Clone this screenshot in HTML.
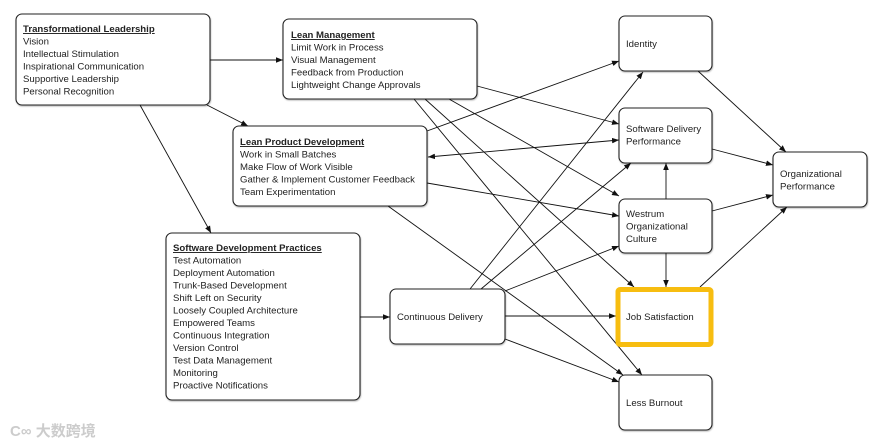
<!DOCTYPE html>
<html><head><meta charset="utf-8"><style>
html,body{margin:0;padding:0;background:#fff;width:880px;height:446px;overflow:hidden}
svg{display:block}
text{font-family:"Liberation Sans","Noto Sans CJK SC",sans-serif;font-size:9.6px;fill:#222}
.b{font-weight:bold;text-decoration:underline}
.box{fill:#fff;stroke:#222;stroke-width:1.1}
.e{stroke:#111;stroke-width:0.9;fill:none;marker-end:url(#a)}
</style></head><body>
<svg width="880" height="446" viewBox="0 0 880 446">
<defs>
<marker id="a" viewBox="0 0 10 10" refX="10" refY="5" markerWidth="7" markerHeight="7" markerUnits="userSpaceOnUse" orient="auto"><path d="M0,1 L10,5 L0,9 z" fill="#111"/></marker>
<marker id="s" viewBox="0 0 10 10" refX="0" refY="5" markerWidth="7" markerHeight="7" markerUnits="userSpaceOnUse" orient="auto"><path d="M10,1 L0,5 L10,9 z" fill="#111"/></marker>
<filter id="sh" x="-10%" y="-10%" width="120%" height="130%"><feDropShadow dx="0.5" dy="1" stdDeviation="0.8" flood-opacity="0.3"/></filter>
</defs>

<line class="e" x1="210" y1="60" x2="283" y2="60"/>
<line class="e" x1="207" y1="105" x2="248" y2="126"/>
<line class="e" x1="140" y1="105" x2="211" y2="233"/>
<line class="e" x1="360" y1="317" x2="390" y2="317"/>
<line class="e" x1="477" y1="86" x2="619" y2="124"/>
<line class="e" x1="449" y1="99" x2="619" y2="196"/>
<line class="e" x1="425" y1="99" x2="634" y2="287"/>
<line class="e" x1="414" y1="99" x2="642" y2="375"/>
<line class="e" x1="427" y1="131" x2="619" y2="61"/>
<line class="e" x1="428" y1="157" x2="619" y2="140" style="marker-start:url(#s)"/>
<line class="e" x1="427" y1="183" x2="619" y2="216"/>
<line class="e" x1="388" y1="206" x2="623" y2="375"/>
<line class="e" x1="470" y1="289" x2="643" y2="72"/>
<line class="e" x1="481" y1="289" x2="631" y2="163"/>
<line class="e" x1="505" y1="291" x2="619" y2="246"/>
<line class="e" x1="505" y1="316" x2="616" y2="316"/>
<line class="e" x1="505" y1="339" x2="619" y2="382"/>
<line class="e" x1="666" y1="199" x2="666" y2="163"/>
<line class="e" x1="666" y1="253" x2="666" y2="287"/>
<line class="e" x1="698" y1="71" x2="786" y2="152"/>
<line class="e" x1="712" y1="149" x2="773" y2="165"/>
<line class="e" x1="712" y1="211" x2="773" y2="195"/>
<line class="e" x1="700" y1="287" x2="787" y2="207"/>

<g filter="url(#sh)">
<rect class="box" x="16" y="14" width="194" height="91" rx="6"/>
<rect class="box" x="283" y="19" width="194" height="80" rx="6"/>
<rect class="box" x="233" y="126" width="194" height="80" rx="6"/>
<rect class="box" x="166" y="233" width="194" height="167" rx="6"/>
<rect class="box" x="390" y="289" width="115" height="55" rx="6"/>
<rect class="box" x="619" y="16" width="93" height="55" rx="6"/>
<rect class="box" x="619" y="108" width="93" height="55" rx="6"/>
<rect class="box" x="619" y="199" width="93" height="54" rx="6"/>
<rect class="box" x="619" y="375" width="93" height="55" rx="6"/>
<rect class="box" x="773" y="152" width="94" height="55" rx="6"/>
</g>
<rect x="618" y="289.5" width="93" height="55" fill="#fff" stroke="#f7bd10" stroke-width="5" rx="2"/>

<text x="23" y="32"><tspan class="b" x="23">Transformational Leadership</tspan><tspan x="23" dy="12.5">Vision</tspan><tspan x="23" dy="12.5">Intellectual Stimulation</tspan><tspan x="23" dy="12.5">Inspirational Communication</tspan><tspan x="23" dy="12.5">Supportive Leadership</tspan><tspan x="23" dy="12.5">Personal Recognition</tspan></text>
<text y="38"><tspan class="b" x="291">Lean Management</tspan><tspan x="291" dy="12.5">Limit Work in Process</tspan><tspan x="291" dy="12.5">Visual Management</tspan><tspan x="291" dy="12.5">Feedback from Production</tspan><tspan x="291" dy="12.5">Lightweight Change Approvals</tspan></text>
<text y="145"><tspan class="b" x="240">Lean Product Development</tspan><tspan x="240" dy="12.5">Work in Small Batches</tspan><tspan x="240" dy="12.5">Make Flow of Work Visible</tspan><tspan x="240" dy="12.5">Gather &amp; Implement Customer Feedback</tspan><tspan x="240" dy="12.5">Team Experimentation</tspan></text>
<text y="251"><tspan class="b" x="173">Software Development Practices</tspan><tspan x="173" dy="12.5">Test Automation</tspan><tspan x="173" dy="12.5">Deployment Automation</tspan><tspan x="173" dy="12.5">Trunk-Based Development</tspan><tspan x="173" dy="12.5">Shift Left on Security</tspan><tspan x="173" dy="12.5">Loosely Coupled Architecture</tspan><tspan x="173" dy="12.5">Empowered Teams</tspan><tspan x="173" dy="12.5">Continuous Integration</tspan><tspan x="173" dy="12.5">Version Control</tspan><tspan x="173" dy="12.5">Test Data Management</tspan><tspan x="173" dy="12.5">Monitoring</tspan><tspan x="173" dy="12.5">Proactive Notifications</tspan></text>
<text x="397" y="320">Continuous Delivery</text>
<text x="626" y="47">Identity</text>
<text y="132"><tspan x="626">Software Delivery</tspan><tspan x="626" dy="12.5">Performance</tspan></text>
<text y="217"><tspan x="626">Westrum</tspan><tspan x="626" dy="12.5">Organizational</tspan><tspan x="626" dy="12.5">Culture</tspan></text>
<text x="626" y="320">Job Satisfaction</text>
<text x="626" y="406">Less Burnout</text>
<text y="177"><tspan x="780">Organizational</tspan><tspan x="780" dy="12.5">Performance</tspan></text>

<text x="10" y="436" style="font-size:15px;fill:#ccc;font-weight:bold">C∞ 大数跨境</text>
</svg>
</body></html>
